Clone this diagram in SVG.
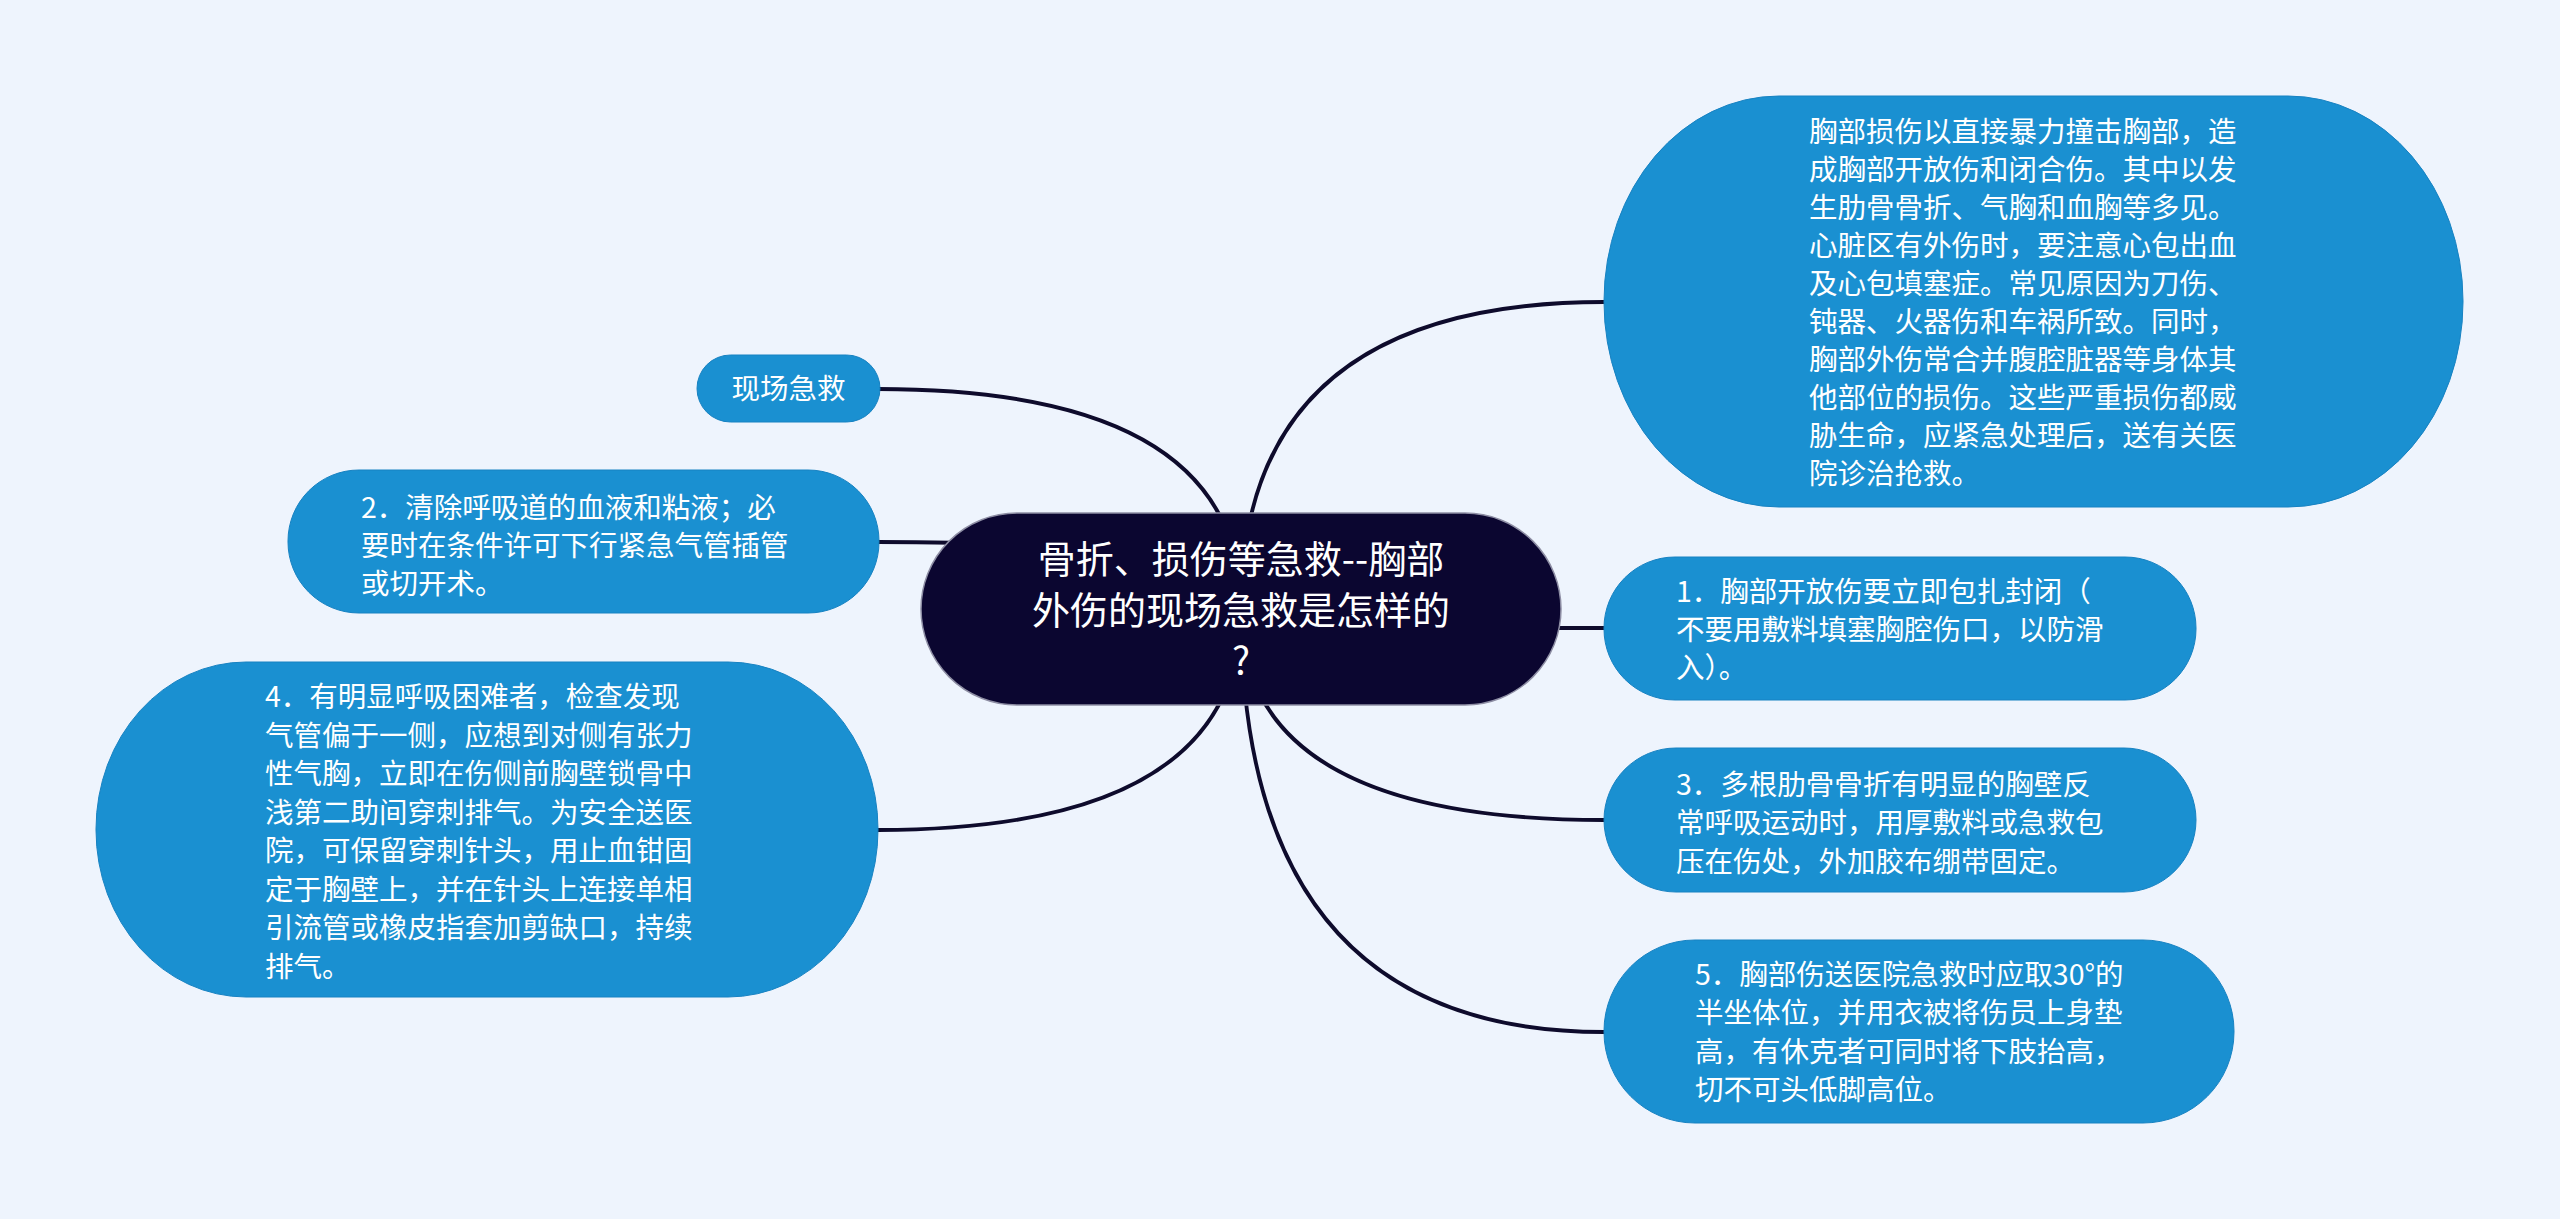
<svg xmlns="http://www.w3.org/2000/svg" width="2560" height="1219" viewBox="0 0 2560 1219">
<style>
.bg{fill:#eef4fd}
.node{fill:#1a90d1;stroke:#1782c2;stroke-width:1}
.root{fill:#0b0630;stroke:#8e8ea4;stroke-width:1.5}
.edge{fill:none;stroke:#0e0b2c;stroke-width:3.8;stroke-linecap:round}
.t{font-family:"Microsoft YaHei","Noto Sans CJK SC","Noto Sans",sans-serif;font-size:28.5px;fill:#ffffff}
.rt{font-family:"Microsoft YaHei","Noto Sans CJK SC","Noto Sans",sans-serif;font-size:38px;fill:#ffffff;text-anchor:middle}
</style>
<rect class="bg" x="0" y="0" width="2560" height="1219"/>
<g id="connectors">
<path class="edge" d="M1241 609 Q1241 389 878 389"/>
<path class="edge" d="M1241 609 Q1241 542 878 542"/>
<path class="edge" d="M1241 609 Q1241 830 878 830"/>
<path class="edge" d="M1241 609 Q1241 302 1604 302"/>
<path class="edge" d="M1241 609 Q1241 628 1604 628"/>
<path class="edge" d="M1241 609 Q1241 820 1604 820"/>
<path class="edge" d="M1241 609 Q1241 1032 1604 1032"/>
</g>
<g id="root">
<rect class="root" x="921" y="513" width="640" height="192" rx="96" ry="96"/>
<text class="rt" x="1241" y="573">骨折、损伤等急救--胸部</text>
<text class="rt" x="1241" y="624">外伤的现场急救是怎样的</text>
<text class="rt" x="1241" y="675">?</text>
</g>
<g id="node-xianchang">
<rect class="node" x="697" y="355" width="183" height="67" rx="33.5" ry="33.5"/>
<text class="t" x="788.5" y="399" text-anchor="middle">现场急救</text>
</g>
<g id="node-2">
<rect class="node" x="288" y="470" width="591" height="143" rx="71" ry="71"/>
<text class="t" x="361" y="518">2．清除呼吸道的血液和粘液；必</text>
<text class="t" x="361" y="556">要时在条件许可下行紧急气管插管</text>
<text class="t" x="361" y="594">或切开术。</text>
</g>
<g id="node-4">
<rect class="node" x="96" y="662" width="782" height="335" rx="150" ry="167"/>
<text class="t" x="265" y="707">4．有明显呼吸困难者，检查发现</text>
<text class="t" x="265" y="745.5">气管偏于一侧，应想到对侧有张力</text>
<text class="t" x="265" y="784">性气胸，立即在伤侧前胸壁锁骨中</text>
<text class="t" x="265" y="822.5">浅第二助间穿刺排气。为安全送医</text>
<text class="t" x="265" y="861">院，可保留穿刺针头，用止血钳固</text>
<text class="t" x="265" y="899.5">定于胸壁上，并在针头上连接单相</text>
<text class="t" x="265" y="938">引流管或橡皮指套加剪缺口，持续</text>
<text class="t" x="265" y="976.5">排气。</text>
</g>
<g id="node-intro">
<rect class="node" x="1604" y="96" width="859" height="411" rx="175" ry="205"/>
<text class="t" x="1809" y="142">胸部损伤以直接暴力撞击胸部，造</text>
<text class="t" x="1809" y="180">成胸部开放伤和闭合伤。其中以发</text>
<text class="t" x="1809" y="218">生肋骨骨折、气胸和血胸等多见。</text>
<text class="t" x="1809" y="256">心脏区有外伤时，要注意心包出血</text>
<text class="t" x="1809" y="294">及心包填塞症。常见原因为刀伤、</text>
<text class="t" x="1809" y="332">钝器、火器伤和车祸所致。同时，</text>
<text class="t" x="1809" y="370">胸部外伤常合并腹腔脏器等身体其</text>
<text class="t" x="1809" y="408">他部位的损伤。这些严重损伤都威</text>
<text class="t" x="1809" y="446">胁生命，应紧急处理后，送有关医</text>
<text class="t" x="1809" y="484">院诊治抢救。</text>
</g>
<g id="node-1">
<rect class="node" x="1604" y="557" width="592" height="143" rx="71" ry="71"/>
<text class="t" x="1676" y="602">1．胸部开放伤要立即包扎封闭（</text>
<text class="t" x="1676" y="640">不要用敷料填塞胸腔伤口，以防滑</text>
<text class="t" x="1676" y="678">入）。</text>
</g>
<g id="node-3">
<rect class="node" x="1604" y="748" width="592" height="144" rx="72" ry="72"/>
<text class="t" x="1676" y="795">3．多根肋骨骨折有明显的胸壁反</text>
<text class="t" x="1676" y="833">常呼吸运动时，用厚敷料或急救包</text>
<text class="t" x="1676" y="872">压在伤处，外加胶布绷带固定。</text>
</g>
<g id="node-5">
<rect class="node" x="1604" y="940" width="630" height="183" rx="91" ry="91"/>
<text class="t" x="1695" y="985">5．胸部伤送医院急救时应取30°的</text>
<text class="t" x="1695" y="1023">半坐体位，并用衣被将伤员上身垫</text>
<text class="t" x="1695" y="1062">高，有休克者可同时将下肢抬高，</text>
<text class="t" x="1695" y="1100">切不可头低脚高位。</text>
</g>
</svg>
